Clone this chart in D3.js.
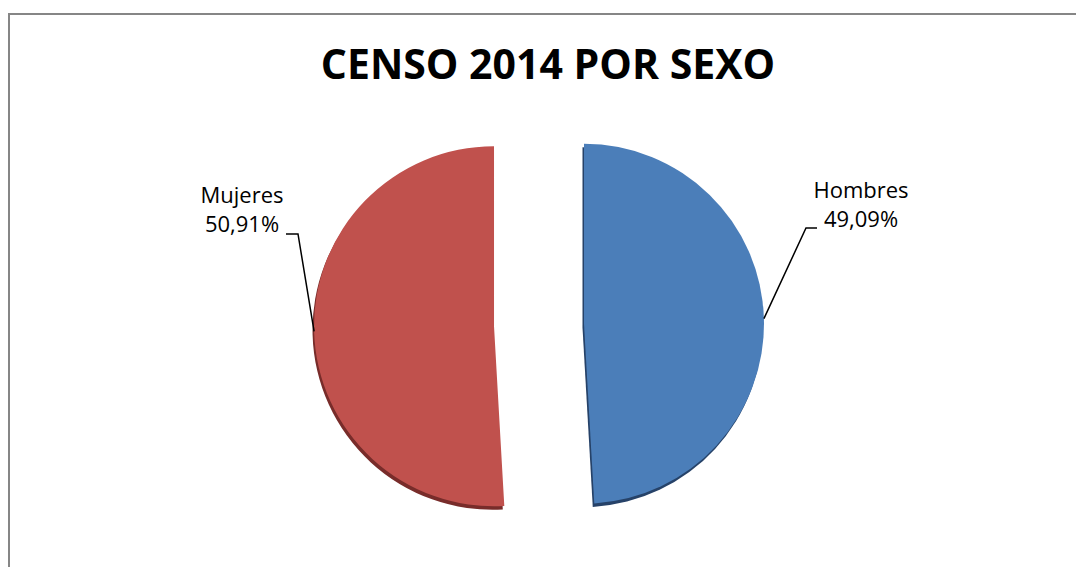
<!DOCTYPE html>
<html>
<head>
<meta charset="utf-8">
<script src="https://cdn.jsdelivr.net/npm/d3@7"></script>
<style>
	body { margin: 0; background: #fff; }
	svg { display: block; font-family: "Open Sans", sans-serif; }
</style>
</head>
<body>
<svg id="chart" width="1076" height="567"></svg>
<script>
'use strict';

// chart data
var categories = ["Hombres", "Mujeres"];
var values = [49.09, 50.91];
var valueLabels = ["49,09%", "50,91%"];
var title = "CENSO 2014 POR SEXO";

var WIDTH = 1076;
var HEIGHT = 567;
var CX = 539;
var CY = 325;
var RADIUS = 180;
var EXPLODE = 45;

var topColors = [d3.rgb(75, 126, 185), d3.rgb(192, 81, 77)];
var sideColors = [d3.rgb(38, 66, 104), d3.rgb(120, 44, 42)];

// label anchors (centre x, first baseline) and leader elbow
var labelPos = [
	{ x: 861, y: 198, elbowX: 806, elbowY: 228, endX: 817 },
	{ x: 242, y: 203, elbowX: 298, elbowY: 234, endX: 286 }
];

var svg = d3.select("#chart");

// chart frame, right and bottom edge fall outside the picture
svg.append("rect")
	.attr("x", 9)
	.attr("y", 14)
	.attr("width", WIDTH + 20)
	.attr("height", HEIGHT + 20)
	.style("fill", "#fff")
	.style("stroke", "#868686")
	.style("stroke-width", 2);

svg.append("text")
	.attr("x", 548)
	.attr("y", 79)
	.attr("text-anchor", "middle")
	.style("font-size", "41px")
	.style("font-weight", "bold")
	.style("fill", "#000")
	.text(title);

var pie = d3.pie()
	.sort(null)
	.startAngle(0)
	.endAngle(2 * Math.PI);

var arcs = pie(values);

var arc = d3.arc()
	.innerRadius(0)
	.outerRadius(RADIUS);

function explodeOffset(d) {
	var mid = (d.startAngle + d.endAngle) / 2;
	return [Math.sin(mid) * EXPLODE, -Math.cos(mid) * EXPLODE];
}

var slices = svg.selectAll(".slice")
	.data(arcs)
	.enter()
	.append("g")
	.classed("slice", 1)
	.attr("transform", function (d) {
		var o = explodeOffset(d);
		return "translate(" + (CX + o[0]) + "," + (CY + o[1]) + ")";
	});

// thin 3d side of each slice
slices.append("path")
	.attr("d", arc)
	.attr("transform", "translate(-1.5,3.5)")
	.style("fill", function (d, i) {
		return sideColors[i];
	});

slices.append("path")
	.attr("d", arc)
	.style("fill", function (d, i) {
		return topColors[i];
	});

// leader lines from the slice edge to the labels
arcs.forEach(function (d, i) {
	var o = explodeOffset(d);
	var mid = (d.startAngle + d.endAngle) / 2;
	var px = CX + o[0] + Math.sin(mid) * RADIUS;
	var py = CY + o[1] - Math.cos(mid) * RADIUS;
	var lp = labelPos[i];

	svg.append("path")
		.attr("d", d3.line()([[px, py], [lp.elbowX, lp.elbowY], [lp.endX, lp.elbowY]]))
		.style("fill", "none")
		.style("stroke", "#000")
		.style("stroke-width", 1.5);

	var label = svg.append("text")
		.attr("text-anchor", "middle")
		.style("font-size", "22px")
		.style("fill", "#000");

	label.append("tspan")
		.attr("x", lp.x)
		.attr("y", lp.y)
		.text(categories[i]);

	label.append("tspan")
		.attr("x", lp.x)
		.attr("y", lp.y + 29)
		.text(valueLabels[i]);
});
</script>
</body>
</html>
